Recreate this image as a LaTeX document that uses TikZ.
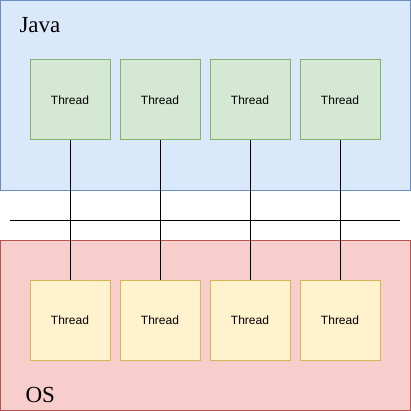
\documentclass[tikz,border=0pt]{standalone}
\usepackage{fontspec}
\setmainfont{Liberation Serif}
\newfontfamily\threadfont{Liberation Sans}
\definecolor{javafill}{HTML}{DAE8FC}
\definecolor{javaline}{HTML}{6C8EBF}
\definecolor{osfill}{HTML}{F8CECC}
\definecolor{osline}{HTML}{B85450}
\definecolor{jthreadfill}{HTML}{D5E8D4}
\definecolor{jthreadline}{HTML}{82B366}
\definecolor{othreadfill}{HTML}{FFF2CC}
\definecolor{othreadline}{HTML}{D6B656}
\tikzset{
  layer/.style={draw, inner sep=0pt, minimum width=410pt},
  thread/.style={draw, inner sep=0pt, minimum size=80pt,
    font=\threadfont\fontsize{12}{14}\selectfont},
  jthread/.style={thread, draw=jthreadline, fill=jthreadfill},
  othread/.style={thread, draw=othreadline, fill=othreadfill},
  layername/.style={anchor=base west, inner sep=0pt,
    font=\fontsize{23}{26}\selectfont}
}
\begin{document}
\begin{tikzpicture}[x=1pt,y=-1pt,line width=1pt]
\useasboundingbox (0,0) rectangle (411,411);
\node[layer, draw=javaline, fill=javafill, minimum height=190pt] (java) at (205.5,95.5) {};
\node[layer, draw=osline, fill=osfill, minimum height=170pt] (os) at (205.5,325.5) {};
\node[layername] (javaname) at (19,33) {Java};
\node[layername] (osname) at (25,402) {OS};
\coordinate (sepl) at (10,220);
\coordinate (sepr) at (400,220);
\draw (sepl) -- (sepr);
\foreach \i/\x in {1/70, 2/160, 3/250, 4/340}
{
  \node[jthread] (j\i) at (\x,100) {Thread};
  \node[othread] (o\i) at (\x,320) {Thread};
  \draw (j\i.south) -- (o\i.north);
}
\end{tikzpicture}
\end{document}
